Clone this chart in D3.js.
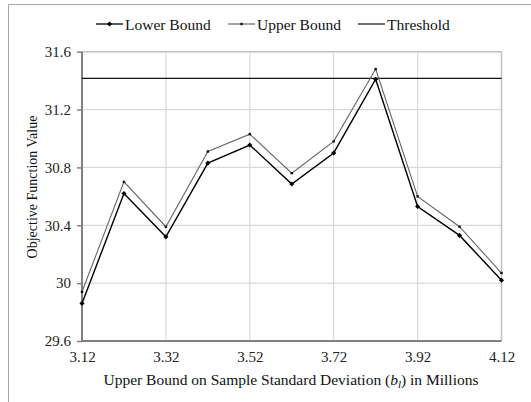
<!DOCTYPE html>
<html><head><meta charset="utf-8">
<script src="https://cdn.jsdelivr.net/npm/d3@7"></script>
<style>body{margin:0;background:#fff}svg{display:block;font-family:"Liberation Serif","Times New Roman",serif}</style>
</head><body><svg id="c" width="531" height="402"></svg>
<script>
const xValues = [3.12,3.22,3.32,3.42,3.52,3.62,3.72,3.82,3.92,4.02,4.12];
const lowerBound = [29.86,30.62,30.32,30.83,30.955,30.685,30.90,31.41,30.53,30.33,30.02];
const upperBound = [29.94,30.70,30.39,30.91,31.03,30.76,30.98,31.48,30.60,30.39,30.07];
const threshold = 31.415;
const xTicks = [3.12,3.32,3.52,3.72,3.92,4.12];
const yTicks = [29.6,30,30.4,30.8,31.2,31.6];
const seriesNames = ["Lower Bound","Upper Bound","Threshold"];

const FONT = '"Liberation Serif","Times New Roman",serif';
const svg = d3.select("#c");
const L=82, R=501.5, T=51.7, B=341;
const x = d3.scaleLinear().domain([3.12,4.12]).range([L,R]);
const y = d3.scaleLinear().domain([29.6,31.6]).range([B,T]);

// outer frame
svg.append("path").attr("d",`M8.5,402 V4.5 H531`).attr("fill","none").attr("stroke","#a6a6a6").attr("stroke-width",1);

// grid
svg.append("g").selectAll("line").data(yTicks.slice(1)).join("line")
  .attr("x1",L).attr("x2",R).attr("y1",d=>y(d)).attr("y2",d=>y(d))
  .attr("stroke",(d,i)=>i===yTicks.length-2?"#bfbfbf":"#d9d9d9").attr("stroke-width",(d,i)=>i===yTicks.length-2?1.5:1.2);
svg.append("g").selectAll("line").data(xTicks.slice(1)).join("line")
  .attr("y1",T).attr("y2",B).attr("x1",d=>x(d)).attr("x2",d=>x(d))
  .attr("stroke",(d,i)=>i===xTicks.length-2?"#bfbfbf":"#d9d9d9").attr("stroke-width",(d,i)=>i===xTicks.length-2?1.5:1.2);

// axes
const yAxis = svg.append("g").attr("transform",`translate(${L},0)`)
  .call(d3.axisLeft(y).tickValues(yTicks).tickFormat(d=>d3.format("")(+d.toFixed(1))).tickSize(5).tickPadding(6));
const xAxis = svg.append("g").attr("transform",`translate(0,${B})`)
  .call(d3.axisBottom(x).tickValues(xTicks).tickFormat(d3.format(".2f")).tickSize(0).tickPadding(10));
[yAxis,xAxis].forEach(a=>{
  a.attr("font-family",null);
  a.select(".domain").attr("stroke","#808080").attr("stroke-width",2);
  a.selectAll(".tick line").attr("stroke","#808080").attr("stroke-width",1.5);
  a.selectAll("text").style("font-family",FONT).attr("font-size",15).attr("fill","#222");
});
xAxis.select(".domain").attr("d",`M${L-1},0H${R}`);
yAxis.select(".domain").attr("d",`M0,${B}V${T}`);

// threshold
svg.append("line").attr("x1",L).attr("x2",R).attr("y1",y(threshold)).attr("y2",y(threshold))
  .attr("stroke","#111").attr("stroke-width",1.2);

const line = d3.line().x((d,i)=>x(xValues[i])).y(d=>y(d));
// upper bound
svg.append("path").datum(upperBound).attr("d",line).attr("fill","none").attr("stroke","#666").attr("stroke-width",1.1);
svg.append("g").selectAll("rect").data(upperBound).join("rect")
  .attr("x",(d,i)=>x(xValues[i])-1.2).attr("y",d=>y(d)-1.2).attr("width",2.4).attr("height",2.4).attr("fill","#111");
// lower bound
svg.append("path").datum(lowerBound).attr("d",line).attr("fill","none").attr("stroke","#000").attr("stroke-width",1.4);
const diamond = d3.symbol().type(d3.symbolSquare).size(13);
svg.append("g").selectAll("path").data(lowerBound).join("path")
  .attr("d",diamond).attr("transform",(d,i)=>`translate(${x(xValues[i])},${y(d)}) rotate(45)`).attr("fill","#000");

// legend
const lg = svg.append("g");
const lx = [96,228,358];
seriesNames.forEach((n,i)=>{
  const g = lg.append("g").attr("transform",`translate(${lx[i]},24)`);
  g.append("line").attr("x1",0).attr("x2",27).attr("y1",0).attr("y2",0)
    .attr("stroke",i===1?"#666":"#111").attr("stroke-width",i===0?1.4:1.2);
  if(i===0) g.append("path").attr("d",diamond).attr("transform","translate(13.5,0) rotate(45)").attr("fill","#000");
  if(i===1) g.append("rect").attr("x",12.3).attr("y",-1.2).attr("width",2.4).attr("height",2.4).attr("fill","#111");
  g.append("text").attr("x",29).attr("y",5.5).style("font-family",FONT).attr("font-size",15.5).attr("fill","#111").text(n);
});

// axis titles
const xt = svg.append("text").attr("x",291).attr("y",385).attr("text-anchor","middle").style("font-family",FONT).attr("font-size",15.5).attr("fill","#111");
xt.append("tspan").text("Upper Bound on Sample Standard Deviation (");
xt.append("tspan").attr("font-style","italic").text("b");
xt.append("tspan").attr("font-style","italic").attr("font-size",11).attr("dy",3).text("l");
xt.append("tspan").attr("dy",-3).text(") in Millions");
svg.append("text").attr("transform",`translate(37,187) rotate(-90)`).attr("text-anchor","middle")
  .style("font-family",FONT).attr("font-size",14).attr("fill","#111").text("Objective Function Value");
</script></body></html>
